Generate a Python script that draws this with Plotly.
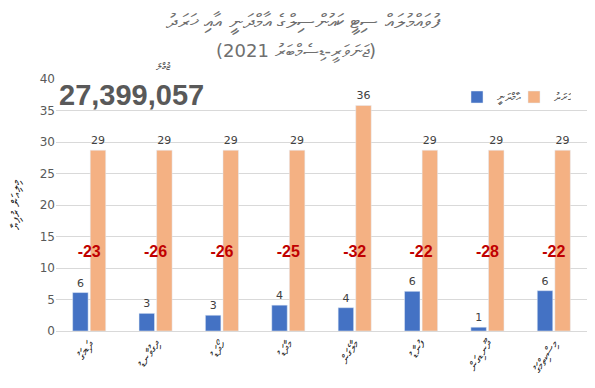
import plotly.graph_objects as go

categories = ["ދަޑިމަގު", "ދިގުވާނޑު", "ހޯދަޑު", "މާދަޑު", "މާލެގަން", "ފުނާޑު", "ދޫނޑިގަން", "މިސްކިތްމަގު"]
income = [6.1, 2.8, 2.5, 4.1, 3.7, 6.3, 0.6, 6.4]
expense = [28.7, 28.7, 28.7, 28.7, 35.8, 28.7, 28.7, 28.7]
income_name = "އާމްދަނީ"
expense_name = "ޚަރަދު"
title_text = "ފުވައްމުލައް ސިޓީ ކައުންސިލްގެ އާމްދަނީ އާއި ޚަރަދު"
subtitle_text = "(ޖަނަވަރީ-ޑިސެމްބަރު 2021)"
total_label = "ޖުމްލަ"
total_value = "27,399,057"
y_title = "މިލިއަން ރުފިޔާ"
y_ticks = [0, 5, 10, 15, 20, 25, 30, 35, 40]

difference = [round(i - e) for i, e in zip(income, expense)]

FONT = "DejaVu Sans, Noto Sans, sans-serif"
GRAY = "#595959"
W, H = 595, 388
ML, MR, MT, MB = 56, 8, 79, 57
plot_w = W - ML - MR
plot_h = H - MT - MB


def px_ann(text, px, py, size, color=GRAY, family=None, xanchor="center"):
    f = dict(size=size, color=color)
    if family:
        f["family"] = family
    return dict(text=text, x=(px - ML) / plot_w, y=(H - MB - py) / plot_h,
                xref="paper", yref="paper", xanchor=xanchor, yanchor="middle",
                showarrow=False, font=f)


fig = go.Figure()
fig.add_trace(go.Bar(
    x=categories, y=income, name=income_name, marker_color="#4472C4",
    texttemplate="%{y:.0f}", textposition="outside",
    textfont=dict(size=11, color="#404040"), cliponaxis=False,
))
fig.add_trace(go.Bar(
    x=categories, y=expense, name=expense_name, marker_color="#F4B183",
    texttemplate="%{y:.0f}", textposition="outside",
    textfont=dict(size=11, color="#404040"), cliponaxis=False,
))
fig.add_trace(go.Scatter(
    x=categories, y=[12.4] * len(categories), mode="text",
    text=[str(d) for d in difference],
    textfont=dict(size=16, color="#C00000", family="Liberation Sans, Arial, sans-serif",
                  weight="bold"),
    showlegend=False, hoverinfo="skip",
))

fig.update_layout(
    width=W, height=H,
    margin=dict(l=ML, r=MR, t=MT, b=MB),
    paper_bgcolor="white", plot_bgcolor="white",
    barmode="group", bargap=0.47, bargroupgap=0.12,
    font=dict(family=FONT, color=GRAY, size=12),
    legend=dict(orientation="h", x=(457 - ML) / plot_w, y=(H - MB - 97) / plot_h,
                xanchor="left", yanchor="middle",
                font=dict(size=11, color=GRAY), traceorder="normal",
                itemwidth=30, entrywidth=12, entrywidthmode="pixels",
                bgcolor="rgba(0,0,0,0)"),
    yaxis=dict(range=[0, 40], tickvals=y_ticks, showgrid=True, gridcolor="#D9D9D9",
               zeroline=False, tickfont=dict(size=12, color=GRAY),
               title=dict(text=y_title, font=dict(size=12, color="#222"), standoff=16),
               ticks=""),
    xaxis=dict(tickangle=-58, tickfont=dict(size=12, color="#222"), showline=True,
               linecolor="#D9D9D9", ticks=""),
    annotations=[
        px_ann(title_text, 303, 22, 20, color="#6F6F6F"),
        px_ann(subtitle_text, 296, 52, 18, color="#6F6F6F"),
        px_ann("<b>" + total_value + "</b>", 57, 95, 29,
               family="Liberation Sans, Arial, sans-serif", xanchor="left"),
        px_ann(total_label, 163, 67, 10),
    ],
)

fig.write_html("out.html", config={"displayModeBar": False},
               post_script="document.body.style.margin='0';")
